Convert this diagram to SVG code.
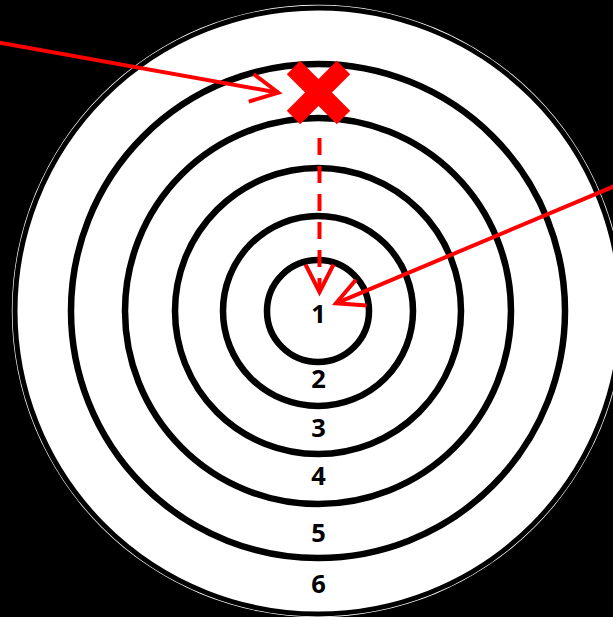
<svg xmlns="http://www.w3.org/2000/svg" width="613" height="617" viewBox="0 0 613 617">
  <style>
    .ring { fill: none; stroke: #000; stroke-width: 6.5; }
    .lbl { font-family: "Open Sans", "Liberation Sans", sans-serif; font-weight: bold; font-size: 25.5px; fill: #000; text-anchor: middle; }
    .arrow { fill: none; stroke: #ff0000; stroke-width: 4; marker-end: url(#head); }
  </style>
  <defs>
    <marker id="head" markerUnits="userSpaceOnUse" viewBox="-32 -18 36 36" refX="0" refY="0" markerWidth="36" markerHeight="36" orient="auto" overflow="visible">
      <path d="M-27.5,-14 L0,0 L-27.5,14" fill="none" stroke="#ff0000" stroke-width="4" stroke-linejoin="miter" stroke-dasharray="none"/>
    </marker>
  </defs>
  <rect id="background" x="0" y="0" width="613" height="617" fill="#000"/>
  <g id="target">
    <circle cx="318" cy="311" r="306.2" fill="#fff"/>
    <circle cx="318" cy="311" r="303" fill="none" stroke="#000" stroke-width="5"/>
    <circle class="ring" cx="318" cy="311" r="247"/>
    <circle class="ring" cx="318" cy="311" r="193"/>
    <circle class="ring" cx="318" cy="311" r="143"/>
    <circle class="ring" cx="318" cy="311" r="95"/>
    <circle class="ring" cx="318" cy="311" r="51"/>
  </g>
  <g id="labels">
    <text class="lbl" x="318.5" y="322.7">1</text>
    <text class="lbl" x="318.5" y="388.3">2</text>
    <text class="lbl" x="318.5" y="436.7">3</text>
    <text class="lbl" x="318.5" y="485">4</text>
    <text class="lbl" x="318.5" y="541.7">5</text>
    <text class="lbl" x="318.5" y="593.3">6</text>
  </g>
  <g id="miss-mark">
    <path d="M293.5,67.5 L343.5,117.5 M343.5,67.5 L293.5,117.5" fill="none" stroke="#ff0000" stroke-width="19"/>
  </g>
  <g id="connectors">
    <path class="arrow" d="M-5,41.8 L278.3,92.7"/>
    <path class="arrow" d="M319.5,138 L319.5,292" stroke-dasharray="17 11"/>
    <path class="arrow" d="M620,183.8 L336,303.3"/>
  </g>
</svg>
